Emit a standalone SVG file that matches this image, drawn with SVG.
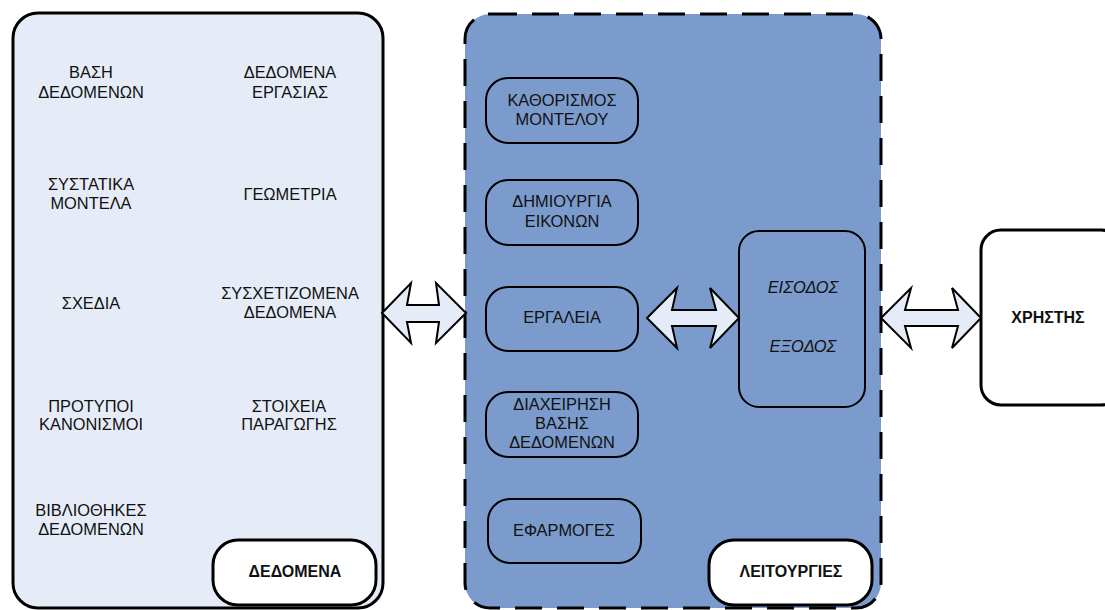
<svg xmlns="http://www.w3.org/2000/svg" width="1105" height="610" viewBox="0 0 1105 610">
  <style>
    text { font-family: "Liberation Sans", Arial, sans-serif; font-size: 16.4px; fill: #111; text-anchor: middle; }
    .b { font-weight: bold; font-size: 16px; }
    .i { font-style: italic; }
    .panel-data { fill: #e6ecf7; stroke: #000; stroke-width: 3; }
    .panel-func { fill: #7b9bcc; stroke: #000; stroke-width: 3; stroke-dasharray: 27 15; }
    .fn { fill: #7b9bcc; stroke: #000; stroke-width: 2; }
    .tag { fill: #fff; stroke: #000; stroke-width: 3; }
    .arrow { fill: #e6ecf7; stroke: #000; stroke-width: 2; stroke-linejoin: miter; }
  </style>

  <!-- Data panel -->
  <g id="data">
    <rect class="panel-data" x="13" y="13" width="370" height="595" rx="25"/>
    <text x="91" y="78">ΒΑΣΗ</text>
    <text x="91" y="98">ΔΕΔΟΜΕΝΩΝ</text>
    <text x="290" y="78">ΔΕΔΟΜΕΝΑ</text>
    <text x="290" y="98">ΕΡΓΑΣΙΑΣ</text>
    <text x="91" y="190">ΣΥΣΤΑΤΙΚΑ</text>
    <text x="91" y="209">ΜΟΝΤΕΛΑ</text>
    <text x="290" y="200">ΓΕΩΜΕΤΡΙΑ</text>
    <text x="91" y="309">ΣΧΕΔΙΑ</text>
    <text x="290" y="299">ΣΥΣΧΕΤΙΖΟΜΕΝΑ</text>
    <text x="290" y="318">ΔΕΔΟΜΕΝΑ</text>
    <text x="91" y="412">ΠΡΟΤΥΠΟΙ</text>
    <text x="91" y="430">ΚΑΝΟΝΙΣΜΟΙ</text>
    <text x="289" y="412">ΣΤΟΙΧΕΙΑ</text>
    <text x="289" y="430">ΠΑΡΑΓΩΓΗΣ</text>
    <text x="91" y="516">ΒΙΒΛΙΟΘΗΚΕΣ</text>
    <text x="91" y="535">ΔΕΔΟΜΕΝΩΝ</text>
  </g>
  <g id="data-label">
    <rect class="tag" x="213" y="540" width="163" height="65" rx="25"/>
    <text class="b" x="295" y="577">ΔΕΔΟΜΕΝΑ</text>
  </g>

  <!-- Functions panel -->
  <g id="functions">
    <rect class="panel-func" x="465" y="14" width="416" height="594" rx="25"/>
  </g>
  <g id="model-definition">
    <rect class="fn" x="486" y="78" width="152" height="65" rx="22"/>
    <text x="562" y="106">ΚΑΘΟΡΙΣΜΟΣ</text>
    <text x="562" y="125">ΜΟΝΤΕΛΟΥ</text>
  </g>
  <g id="image-creation">
    <rect class="fn" x="486" y="180" width="152" height="65" rx="22"/>
    <text x="562" y="207">ΔΗΜΙΟΥΡΓΙΑ</text>
    <text x="562" y="227">ΕΙΚΟΝΩΝ</text>
  </g>
  <g id="tools">
    <rect class="fn" x="486" y="287" width="152" height="64" rx="22"/>
    <text x="562" y="323">ΕΡΓΑΛΕΙΑ</text>
  </g>
  <g id="db-management">
    <rect class="fn" x="486" y="392" width="152" height="65" rx="22"/>
    <text x="562" y="410">ΔΙΑΧΕΙΡΗΣΗ</text>
    <text x="562" y="429">ΒΑΣΗΣ</text>
    <text x="562" y="448">ΔΕΔΟΜΕΝΩΝ</text>
  </g>
  <g id="applications">
    <rect class="fn" x="488" y="499" width="153" height="64" rx="22"/>
    <text x="564" y="536">ΕΦΑΡΜΟΓΕΣ</text>
  </g>
  <g id="io">
    <rect class="fn" x="739" y="231" width="126" height="176" rx="20"/>
    <text class="i" x="803" y="293">ΕΙΣΟΔΟΣ</text>
    <text class="i" x="803" y="352">ΕΞΟΔΟΣ</text>
  </g>
  <g id="functions-label">
    <rect class="tag" x="709" y="540" width="163" height="65" rx="25"/>
    <text class="b" x="791" y="577">ΛΕΙΤΟΥΡΓΙΕΣ</text>
  </g>

  <!-- User -->
  <g id="user">
    <rect class="tag" x="981" y="230" width="140" height="175" rx="20"/>
    <text class="b" x="1048" y="323">ΧΡΗΣΤΗΣ</text>
  </g>

  <!-- Two-way block arrows -->
  <g id="connectors">
    <path class="arrow" d="M382,313 L411,283 L407,305 L439,305 L436,283 L466,313 L436,343 L439,322 L407,322 L411,343 Z"/>
    <path class="arrow" d="M647,318 L677,288 L672,310 L716,310 L710,288 L739,318 L710,348 L716,326 L672,326 L677,348 Z"/>
    <path class="arrow" d="M881,318 L911,288 L905,310 L958,310 L952,288 L981,318 L952,348 L958,326 L905,326 L911,348 Z"/>
  </g>
</svg>
